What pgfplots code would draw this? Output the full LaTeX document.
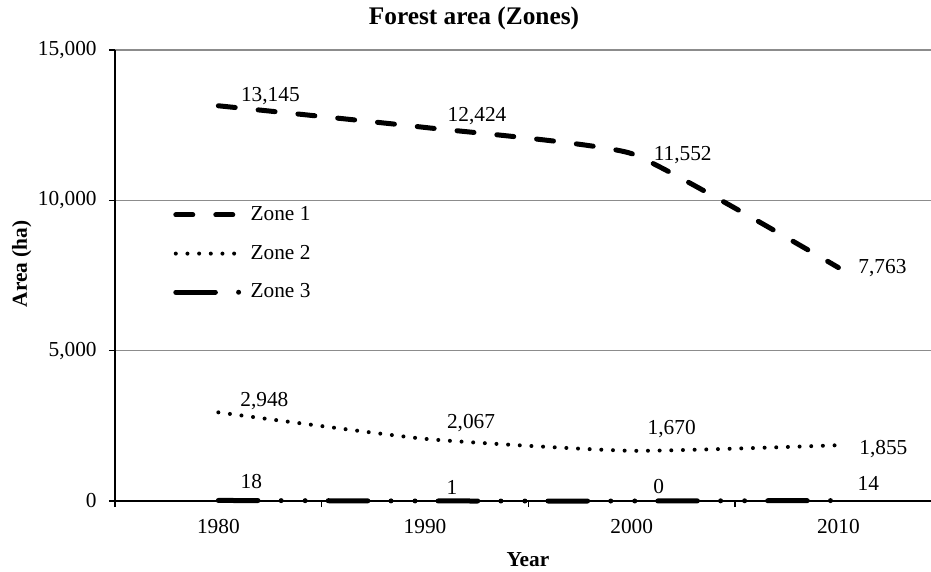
\documentclass[border=0pt]{standalone}
\usepackage{fontspec}
\setmainfont{Liberation Serif}
\usepackage{pgfplots}
\usepackage{pgfplotstable}
\pgfplotsset{compat=1.18}
\definecolor{gridc}{RGB}{140,140,140}

\pgfplotstableread{
x y lab dx dy
0 13145 13,145 52 10
1 12424 12,424 52 11
2 11552 11,552 51 -1
3 7763 7,763 44 0
}\zonea
\pgfplotstableread{
x y lab dx dy
0 2948 2,948 46 11
1 2067 2,067 46 16
2 1670 1,670 40 22
3 1855 1,855 45 -4
}\zoneb
\pgfplotstableread{
x y lab dx dy
0 18 18 33 19
1 1 1 27 14
2 0 0 27 14
3 14 14 30 17
}\zonec

\begin{document}
\fontsize{16}{19}\selectfont
\begin{tikzpicture}
\begin{axis}[
  scale only axis,
  width=612pt, height=338.25pt,
  xmin=-0.5, xmax=3.448,
  ymin=0, ymax=15000,
  axis x line=bottom, axis y line=left,
  axis line style={-, line width=1pt, black},
  xtick={-0.5,0.5,1.5,2.5},
  xticklabels={},
  extra x ticks={0,1,2,3},
  extra x tick labels={1980,1990,2000,2010},
  extra x tick style={major tick length=0pt, grid=none},
  xticklabel style={yshift=-8.5pt},
  yticklabel style={xshift=-3.75pt},
  ytick={0,5000,10000,15000},
  tick align=outside,
  major tick length=4.5pt,
  tick style={line width=1pt, black},
  ymajorgrids,
  major grid style={line width=1pt, gridc},
  scaled y ticks=false,
  /pgf/number format/1000 sep={,},
  /pgf/number format/assume math mode=true,
  clip=false,
  legend image code/.code={\draw[#1] (0pt,0pt) -- (47.25pt,0pt);},
  legend cell align=left,
  legend style={draw=none, fill=none, at={(rel axis cs:0.0711,0.654)}, anchor=north west,
    inner sep=0pt, row sep=16pt, column sep=7pt, nodes={inner sep=0pt}},
  nodes near coords style={anchor=center, black},
]
\addplot[black, line width=3.75pt, line cap=round, smooth, tension=0.25, dash pattern=on 12.75pt off 17.25pt]
  table[x=x, y=y] {\zonea};
\addlegendentry{Zone 1}
\addplot[black, line width=3pt, line cap=round, smooth, tension=0.3, dash pattern=on 0pt off 8.75pt]
  table[x=x, y=y] {\zoneb};
\addlegendentry{Zone 2}
\addplot[black, line width=3.75pt, line cap=round, smooth, tension=0.3, dash pattern=on 29.7pt off 17.4pt on 0pt off 18pt on 0pt off 17.3pt]
  table[x=x, y=y] {\zonec};
\addlegendentry{Zone 3}

\addplot[draw=none, forget plot, point meta=explicit symbolic,
  visualization depends on={\thisrow{dx}\as\dx},
  visualization depends on={\thisrow{dy}\as\dy},
  nodes near coords={\pgfplotspointmeta},
  nodes near coords style={xshift=\dx*0.75pt, yshift=\dy*0.75pt}]
  table[x=x, y=y, meta=lab] {\zonea};
\addplot[draw=none, forget plot, point meta=explicit symbolic,
  visualization depends on={\thisrow{dx}\as\dx},
  visualization depends on={\thisrow{dy}\as\dy},
  nodes near coords={\pgfplotspointmeta},
  nodes near coords style={xshift=\dx*0.75pt, yshift=\dy*0.75pt}]
  table[x=x, y=y, meta=lab] {\zoneb};
\addplot[draw=none, forget plot, point meta=explicit symbolic,
  visualization depends on={\thisrow{dx}\as\dx},
  visualization depends on={\thisrow{dy}\as\dy},
  nodes near coords={\pgfplotspointmeta},
  nodes near coords style={xshift=\dx*0.75pt, yshift=\dy*0.75pt}]
  table[x=x, y=y, meta=lab] {\zonec};

\coordinate (bl) at (rel axis cs:0,0);
\coordinate (tr) at (rel axis cs:1,1);
\end{axis}
\node[font=\fontsize{19}{22}\selectfont\bfseries] at ([shift={(269.25pt,362.25pt)}]bl) {Forest area (Zones)};
\node[font=\bfseries, rotate=90] at ([shift={(-70pt,177.75pt)}]bl) {Area (ha)};
\node[font=\bfseries] at ([shift={(309.75pt,-44.25pt)}]bl) {Year};
\pgfresetboundingbox
\path[use as bounding box] ([shift={(-86.25pt,-52.5pt)}]bl) rectangle ([shift={(0pt,37.5pt)}]tr);
\end{tikzpicture}
\end{document}
